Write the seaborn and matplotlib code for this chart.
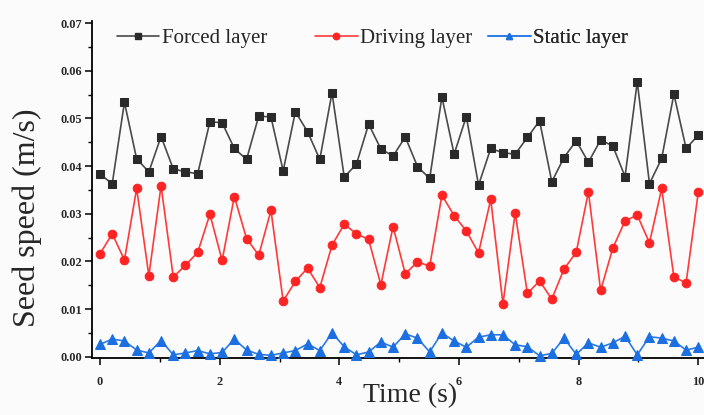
import numpy as np
import pandas as pd
import matplotlib
matplotlib.use("Agg")
import matplotlib.pyplot as plt
from matplotlib.lines import Line2D
from matplotlib.ticker import MultipleLocator
import seaborn as sns

# ---- data ----
time_s = np.linspace(0, 10, 50)

forced_layer = [0.0383, 0.0363, 0.0534, 0.0415, 0.0388, 0.0462, 0.0394, 0.0388, 0.0384, 0.0493,
                0.0491, 0.0437, 0.0414, 0.0505, 0.0503, 0.0390, 0.0514, 0.0472, 0.0414, 0.0554,
                0.0377, 0.0404, 0.0488, 0.0436, 0.0421, 0.0461, 0.0399, 0.0374, 0.0545, 0.0425,
                0.0504, 0.0360, 0.0437, 0.0428, 0.0425, 0.0460, 0.0495, 0.0367, 0.0418, 0.0453,
                0.0408, 0.0455, 0.0442, 0.0378, 0.0577, 0.0363, 0.0416, 0.0551, 0.0437, 0.0465]

driving_layer = [0.0216, 0.0258, 0.0203, 0.0353, 0.0170, 0.0359, 0.0167, 0.0192, 0.0219, 0.0299,
                 0.0202, 0.0336, 0.0248, 0.0213, 0.0307, 0.0117, 0.0158, 0.0186, 0.0145, 0.0234,
                 0.0278, 0.0258, 0.0246, 0.0151, 0.0273, 0.0174, 0.0199, 0.0190, 0.0339, 0.0296,
                 0.0264, 0.0218, 0.0330, 0.0111, 0.0302, 0.0133, 0.0159, 0.0121, 0.0184, 0.0219,
                 0.0346, 0.0139, 0.0228, 0.0285, 0.0297, 0.0239, 0.0353, 0.0167, 0.0155, 0.0346]

static_layer = [0.0026, 0.0037, 0.0033, 0.0014, 0.0008, 0.0034, 0.0004, 0.0008, 0.0013, 0.0006,
                0.0009, 0.0037, 0.0014, 0.0005, 0.0003, 0.0008, 0.0013, 0.0027, 0.0013, 0.0050,
                0.0021, 0.0004, 0.0010, 0.0031, 0.0020, 0.0048, 0.0039, 0.0010, 0.0050, 0.0033,
                0.0020, 0.0041, 0.0046, 0.0046, 0.0025, 0.0021, 0.0002, 0.0007, 0.0039, 0.0005,
                0.0029, 0.0020, 0.0029, 0.0043, 0.0004, 0.0042, 0.0039, 0.0033, 0.0014, 0.0020]

series_names = ["Forced layer", "Driving layer", "Static layer"]
x_ticks = [0, 2, 4, 6, 8, 10]
y_ticks = [0.00, 0.01, 0.02, 0.03, 0.04, 0.05, 0.06, 0.07]

# ---- styling ----
sns.set_style("ticks")
plt.rcParams["font.family"] = ["Liberation Serif", "DejaVu Serif"]

colors = ["#2a2a2a", "#ff2424", "#1c6fe0"]
line_colors = ["#4a4a4a", "#ff3a3a", "#2a7ae6"]
markers = ["s", "o", "^"]
msizes = [5.3, 6.2, 6.5]

fig = plt.figure(figsize=(7.04, 4.15), dpi=100, facecolor="#fbfbfb")
ax = fig.add_axes([92.3 / 704, 0.1381, 1 - 92.3 / 704, 0.812])
ax.set_facecolor("#fbfbfb")

df = pd.DataFrame({"time": time_s, series_names[0]: forced_layer,
                   series_names[1]: driving_layer, series_names[2]: static_layer})

handles = []
for name, c, lc, m, ms in zip(series_names, colors, line_colors, markers, msizes):
    sns.lineplot(data=df, x="time", y=name, ax=ax, color=lc, linewidth=1.2,
                 marker=m, markersize=ms, markerfacecolor=c, markeredgecolor=c,
                 legend=False, clip_on=False, zorder=3)
    handles.append(Line2D([], [], color=lc, linewidth=1.2, marker=m,
                          markersize=ms * 0.75, markerfacecolor=c, markeredgecolor=c))

ax.set_xlim(-0.129, 10.095)
ax.set_ylim(-0.0002, 0.0705)
ax.set_xticks(x_ticks)
ax.set_xticklabels([str(t) for t in x_ticks])
ax.set_yticks(y_ticks)
ax.set_yticklabels([f"{t:.2f}" for t in y_ticks])
ax.xaxis.set_minor_locator(MultipleLocator(1))
ax.yaxis.set_minor_locator(MultipleLocator(0.005))

ax.tick_params(axis="both", which="major", direction="out", length=5, width=1.1,
               labelsize=8.8, color="black")
ax.tick_params(axis="both", which="minor", direction="out", length=3, width=1.0, color="black")
ax.tick_params(axis="x", which="major", pad=8)
ax.tick_params(axis="y", which="major", pad=2.5)
for lbl in ax.get_xticklabels() + ax.get_yticklabels():
    lbl.set_fontweight("bold")

sns.despine(ax=ax)
for sp in ("left", "bottom"):
    ax.spines[sp].set_linewidth(1.3)
    ax.spines[sp].set_color("black")

ax.set_xlabel("")
ax.set_ylabel("")
fig.text(410 / 704, 1 - 396 / 415, "Time (s)", ha="center", va="center", fontsize=20)
fig.text(27 / 704, 1 - 218 / 415, "Seed speed (m/s)", ha="center", va="center",
         rotation=90, fontsize=23)

# ---- legend entries ----
leg_x = [116.7, 315, 488]
for h, name, lx in zip(handles, series_names, leg_x):
    leg = ax.legend([h], [name], loc="center left",
                    bbox_to_anchor=(lx / 704, 1 - 38.5 / 415),
                    bbox_transform=fig.transFigure, frameon=False,
                    fontsize=15, handlelength=2.05, handletextpad=0.13,
                    borderpad=0, borderaxespad=0)
    ax.add_artist(leg)

fig.savefig("out.png", dpi=100, facecolor=fig.get_facecolor())
